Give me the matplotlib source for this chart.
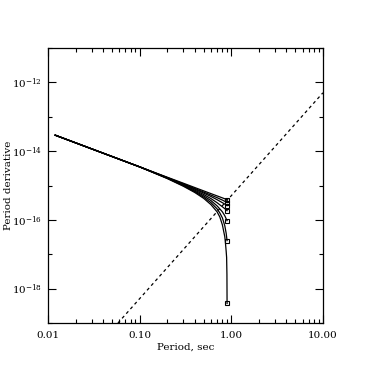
import numpy as np
import matplotlib
matplotlib.use("Agg")
import matplotlib.pyplot as plt
from matplotlib.ticker import LogLocator, FixedLocator, FuncFormatter, NullFormatter

plt.rcParams['font.family'] = 'DejaVu Serif'
plt.rcParams['mathtext.fontset'] = 'dejavuserif'

# evolutionary tracks (period in s, period derivative in units of 1e-16 s/s)
P_track = [0.012, 0.1, 0.2, 0.3, 0.4, 0.5, 0.6, 0.7, 0.75, 0.8, 0.85, 0.88, 0.9]
Pdot_1 = [292, 35.0, 17.5, 11.7, 8.75, 7.0, 5.83, 5.0, 4.67, 4.38, 4.12, 3.98, 3.89]
Pdot_2 = [292, 35.0, 17.15, 11.2, 8.24, 6.46, 5.28, 4.44, 4.08, 3.78, 3.48, 3.30, 3.18]
Pdot_3 = [292, 35.0, 16.9, 10.9, 7.87, 6.04, 4.81, 3.88, 3.50, 3.17, 2.89, 2.72, 2.60]
Pdot_4 = [292, 35.0, 16.7, 10.6, 7.40, 5.50, 4.18, 3.17, 2.75, 2.41, 2.12, 1.97, 1.86]
Pdot_5 = [292, 35.0, 16.5, 10.2, 6.97, 5.01, 3.65, 2.56, 2.09, 1.72, 1.32, 1.08, 0.953]
Pdot_6 = [292, 35.0, 16.3, 9.87, 6.61, 4.59, 3.19, 2.10, 1.60, 1.15, 0.675, 0.408, 0.250]

# the fastest-decaying track needs a few more points near the end
P_track_7 = [0.012, 0.1, 0.2, 0.3, 0.4, 0.5, 0.6, 0.7, 0.75, 0.8, 0.85, 0.86, 0.88, 0.89, 0.897, 0.9]
Pdot_7 = [292, 35.0, 16.0, 9.55, 6.27, 4.24, 2.79, 1.72, 1.22, 0.718, 0.324, 0.245,
          0.122, 0.081, 0.0258, 0.0037]

# dashed line
P_line = [0.058, 10.0]
Pdot_line = [1.0e-19, 5.0e-13]

x_ticks = [0.01, 0.1, 1.0, 10.0]

fig = plt.figure(figsize=(3.72, 3.72), dpi=100)
ax = fig.add_axes([0.129, 0.1317, 0.739, 0.739])

tracks = [(P_track, Pdot_1), (P_track, Pdot_2), (P_track, Pdot_3), (P_track, Pdot_4),
          (P_track, Pdot_5), (P_track, Pdot_6), (P_track_7, Pdot_7)]
for P, Pd in tracks:
    Pd = np.array(Pd) * 1e-16
    ax.plot(P, Pd, color='black', lw=0.9)
    ax.plot(P[-1], Pd[-1], marker='s', ms=3.2, mfc='none', mec='black', mew=0.8)

ax.plot(P_line, Pdot_line, color='black', lw=0.9, linestyle=(0, (2.5, 2.5)))

ax.set_xscale('log')
ax.set_yscale('log')
ax.set_xlim(0.01, 10.0)
ax.set_ylim(1e-19, 1e-11)

ax.xaxis.set_major_locator(FixedLocator(x_ticks))
ax.xaxis.set_major_formatter(FuncFormatter(lambda v, p: "%.2f" % v))
ax.xaxis.set_minor_locator(LogLocator(base=10, subs=np.arange(2, 10)))
ax.xaxis.set_minor_formatter(NullFormatter())

ax.yaxis.set_major_locator(FixedLocator([1e-18, 1e-16, 1e-14, 1e-12]))
ax.yaxis.set_major_formatter(FuncFormatter(lambda v, p: r"10$^{%d}$" % round(np.log10(v))))
ax.yaxis.set_minor_locator(FixedLocator([1e-19, 1e-17, 1e-15, 1e-13, 1e-11]))
ax.yaxis.set_minor_formatter(NullFormatter())

ax.tick_params(which='both', direction='in', top=True, right=True, width=0.8, labelsize=7.5)
ax.tick_params(which='major', length=6)
ax.tick_params(which='minor', length=3)
ax.tick_params(axis='x', pad=6)
ax.tick_params(axis='y', pad=4)
for s in ax.spines.values():
    s.set_linewidth(0.9)

ax.set_xlabel("Period, sec", fontsize=7.5)
ax.set_ylabel("Period derivative", fontsize=7.5)
ax.xaxis.set_label_coords(0.5, -0.07)
ax.yaxis.set_label_coords(-0.128, 0.5)

fig.savefig("out.png", dpi=100)
